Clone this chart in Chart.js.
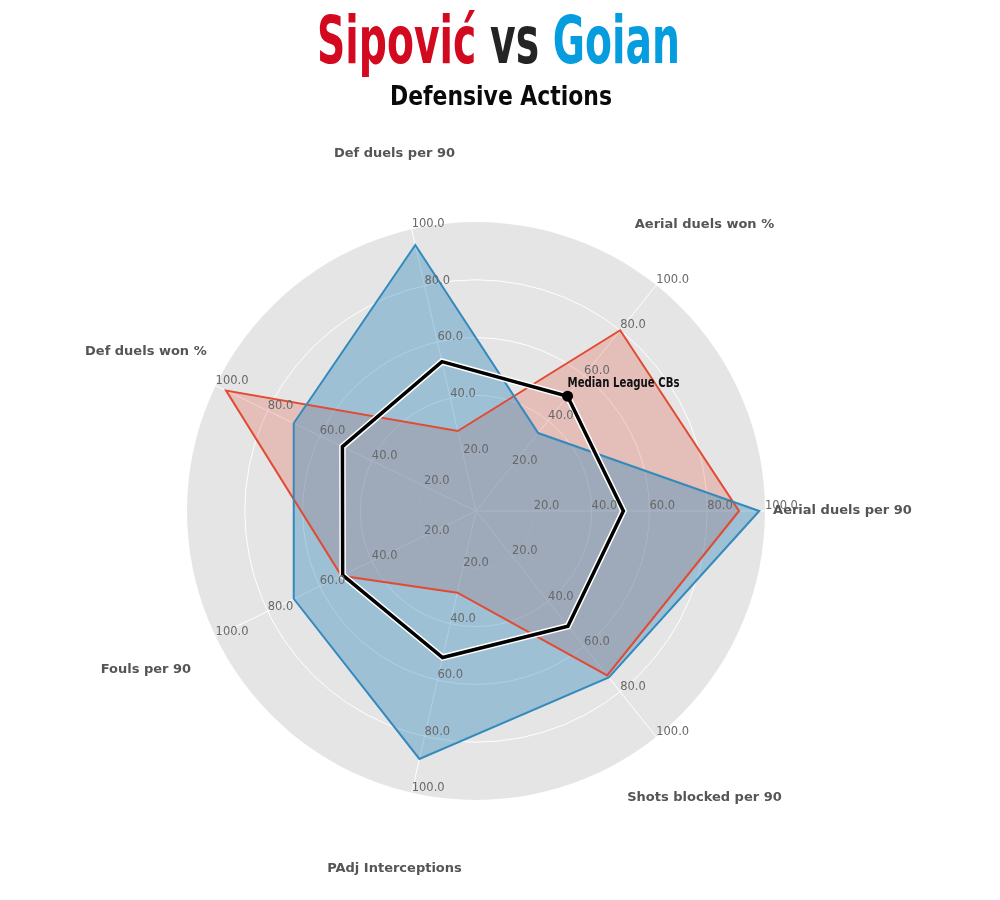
<!DOCTYPE html>
<html>
<head>
<meta charset="utf-8">
<title>Sipović vs Goian - Defensive Actions</title>
<script src="https://cdn.jsdelivr.net/npm/chart.js@4.4.1/dist/chart.umd.min.js"></script>
<style>
  html, body { margin: 0; padding: 0; background: #ffffff; }
  #wrap { width: 1000px; height: 900px; position: relative; }
  canvas { display: block; }
</style>
</head>
<body>
<div id="wrap">
  <canvas id="radar" width="1000" height="900"></canvas>
</div>
<script>
// axes, clockwise starting at the right-hand side
const categories = [
  "Aerial duels per 90",
  "Shots blocked per 90",
  "PAdj Interceptions",
  "Fouls per 90",
  "Def duels won %",
  "Def duels per 90",
  "Aerial duels won %"
];
const goianValues   = [98, 73.7, 88, 70, 70, 94.4, 34.5];
const sipovicValues = [91, 72.8, 29, 51.7, 96, 28.4, 80];
const medianValues  = [51, 51, 52, 51.2, 51.3, 53, 50.8];
const tickValues = [20, 40, 60, 80, 100];

const titleParts = [
  { text: "Sipović", color: "#d3091f" },
  { text: " vs ", color: "#242424" },
  { text: "Goian", color: "#069ddf" }
];
const subtitle = "Defensive Actions";
const medianLabel = "Median League CBs";
const medianLabelIndex = 6;

const narrow = "'Liberation Sans Narrow', 'DejaVu Sans Condensed', 'Roboto', sans-serif";

// draws a row of coloured texts squeezed to a given width
function drawFitted(ctx, parts, font, cx, baseline, targetWidth) {
  ctx.save();
  ctx.font = font;
  ctx.textBaseline = "alphabetic";
  ctx.textAlign = "left";
  const total = parts.reduce((w, p) => w + ctx.measureText(p.text).width, 0);
  ctx.translate(cx - targetWidth / 2, baseline);
  ctx.scale(targetWidth / total, 1);
  let x = 0;
  parts.forEach(p => {
    ctx.fillStyle = p.color;
    ctx.fillText(p.text, x, 0);
    x += ctx.measureText(p.text).width;
  });
  ctx.restore();
}

const radarDecor = {
  id: "radarDecor",
  beforeDraw(chart) {
    const s = chart.scales.r;
    const ctx = chart.ctx;
    // grey polar background
    ctx.save();
    ctx.fillStyle = "#e5e5e5";
    ctx.beginPath();
    ctx.arc(s.xCenter, s.yCenter, s.getDistanceFromCenterForValue(100), 0, Math.PI * 2);
    ctx.fill();
    ctx.restore();
  },
  afterDatasetsDraw(chart) {
    const s = chart.scales.r;
    const ctx = chart.ctx;
    ctx.save();

    // range labels along every axis
    ctx.font = "11.5px 'DejaVu Sans', sans-serif";
    ctx.fillStyle = "#686868";
    ctx.textAlign = "left";
    ctx.textBaseline = "bottom";
    categories.forEach((c, i) => {
      tickValues.forEach(v => {
        const p = s.getPointPositionForValue(i, v);
        ctx.fillText(v.toFixed(1), p.x, p.y + 1);
      });
    });

    // axis names
    ctx.font = "bold 13px 'DejaVu Sans', sans-serif";
    ctx.fillStyle = "#555555";
    ctx.textAlign = "center";
    ctx.textBaseline = "middle";
    categories.forEach((c, i) => {
      const p = s.getPointPosition(i, s.drawingArea * 1.268);
      ctx.fillText(c, p.x, p.y);
    });

    // median label
    const m = s.getPointPositionForValue(medianLabelIndex, medianValues[medianLabelIndex]);
    ctx.restore();
    drawFitted(ctx, [{ text: medianLabel, color: "#111111" }], "bold 14px " + narrow,
      m.x + 56, m.y - 9, 112);
  },
  afterDraw(chart) {
    const ctx = chart.ctx;
    drawFitted(ctx, titleParts, "bold 65px " + narrow, 498.5, 63, 363);
    drawFitted(ctx, [{ text: subtitle, color: "#0a0a0a" }], "bold 26px " + narrow, 501, 105, 222);
  }
};

const ctx = document.getElementById("radar").getContext("2d");

new Chart(ctx, {
  type: "radar",
  data: {
    labels: categories,
    datasets: [
      {
        label: "Median League CBs",
        data: medianValues,
        borderColor: "#000000",
        borderWidth: 3.5,
        borderJoinStyle: "miter",
        fill: false,
        pointRadius: c => (c.dataIndex === medianLabelIndex ? 5.5 : 0),
        pointBackgroundColor: "#000000",
        pointBorderWidth: 0,
        order: 0
      },
      {
        label: "outline",
        data: medianValues,
        borderColor: "#ffffff",
        borderWidth: 6.5,
        borderJoinStyle: "miter",
        fill: false,
        pointRadius: 0,
        order: 1
      },
      {
        label: "Goian",
        data: goianValues,
        borderColor: "#348abd",
        backgroundColor: "rgba(52, 138, 189, 0.4)",
        borderWidth: 2,
        borderJoinStyle: "miter",
        fill: true,
        pointRadius: 0,
        order: 2
      },
      {
        label: "Sipović",
        data: sipovicValues,
        borderColor: "#e24a33",
        backgroundColor: "rgba(226, 74, 51, 0.25)",
        borderWidth: 2,
        borderJoinStyle: "miter",
        fill: true,
        pointRadius: 0,
        order: 3
      }
    ]
  },
  options: {
    responsive: false,
    animation: false,
    layout: {
      padding: { left: 187, right: 235, top: 222, bottom: 100 }
    },
    scales: {
      r: {
        min: 0,
        max: 100,
        startAngle: 90,
        ticks: { stepSize: 20, display: false },
        pointLabels: { display: false },
        grid: {
          color: c => (c.tick && c.tick.value === 100 ? "rgba(0,0,0,0)" : "#ffffff"),
          lineWidth: 1,
          circular: true
        },
        angleLines: { color: "#ffffff", lineWidth: 1 },
        border: { dash: c => (c.index === 1 ? [1, 2] : []) }
      }
    },
    plugins: {
      legend: { display: false },
      tooltip: { enabled: false },
      filler: { drawTime: "beforeDatasetsDraw" }
    }
  },
  plugins: [radarDecor]
});
</script>
</body>
</html>
